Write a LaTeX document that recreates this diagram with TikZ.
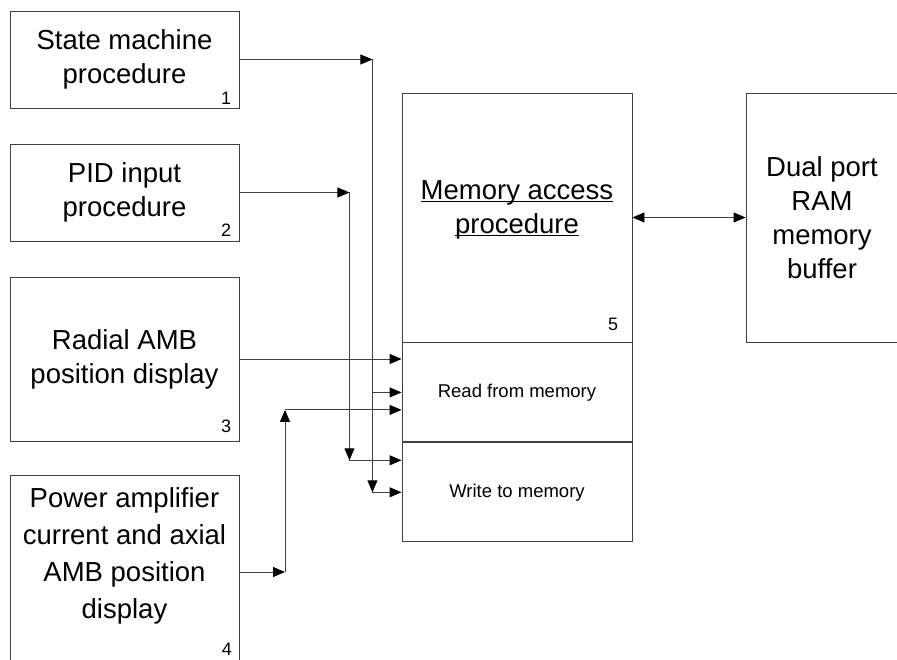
\documentclass[tikz,border=0pt]{standalone}
\usepackage{fontspec}
\setmainfont{Liberation Sans}
\usetikzlibrary{arrows.meta, positioning}
\tikzstyle{block}=[draw=black!75, line width=0.9pt, minimum width=229pt, align=center, inner sep=0pt, font=\fontsize{27.5}{34}\selectfont]
\tikzstyle{inarrow}=[-{Triangle[length=12pt,width=10pt,color=black]}, draw=black!75, line width=0.9pt]
\tikzstyle{num}=[anchor=south east, inner sep=0pt, font=\fontsize{18}{20}\selectfont]
\newcommand{\undl}[1]{\underline{\smash{#1}}}

\begin{document}
\begin{tikzpicture}[x=1pt,y=-1pt]
        \useasboundingbox (0,0) rectangle (897,660);

        \node[block, minimum height=97pt] (p1) at (124.5,59.5) {State machine\\procedure};
        \node[num, xshift=-8pt, yshift=4pt] (n1) at (p1.south east) {1};

        \node[block, minimum height=97pt] (p2) at (124.5,192.5) {PID input\\procedure};
        \node[num, xshift=-8pt, yshift=5pt] (n2) at (p2.south east) {2};

        \node[block, minimum height=164pt] (p3) at (124.5,359) {Radial AMB\\position display};
        \node[num, xshift=-8pt, yshift=9pt] (n3) at (p3.south east) {3};

        % box 4 runs past the bottom edge
        \node[block, minimum height=205pt] (p4) at (124.5,577.5) {};
        \node[align=center, font=\fontsize{27.5}{37}\selectfont] (t4) at (124.5,556) {Power amplifier\\current and axial\\AMB position\\display};
        \node[num, anchor=center] (n4) at (227,649) {4};

        \node[block, minimum width=230pt, minimum height=249pt] (p5) at (517,217.5) {\undl{Memory access}\\\undl{procedure}};
        \node[num, xshift=-14pt, yshift=12pt] (n5) at (p5.south east) {5};
        \node[block, minimum width=230pt, minimum height=99pt, below=0pt of p5, font=\fontsize{18.5}{22}\selectfont] (rd) {Read from memory};
        \node[block, minimum width=230pt, minimum height=99pt, below=0pt of rd, font=\fontsize{18.5}{22}\selectfont] (wr) {Write to memory};

        \node[block, minimum width=152pt, minimum height=249pt] (ram) at (822,217.5) {Dual port\\RAM\\memory\\buffer};

        \coordinate (j1) at ([xshift=133pt]p1.east);
        \coordinate (j2) at ([xshift=110pt]p2.east);
        \coordinate (j4) at (285,572);
        \coordinate (w2) at ([yshift=32pt]wr.west);
        \coordinate (r4) at ([yshift=-17.5pt]rd.west);

        \draw[inarrow] (p1.east) -- (j1);
        \draw[inarrow] (j1) -- (j1 |- wr.west);
        \draw[inarrow] (j1 |- wr.west) -- (wr.west);
        \draw[inarrow] (j1 |- rd.west) -- (rd.west);

        \draw[inarrow] (p2.east) -- (j2);
        \draw[inarrow] (j2) -- (j2 |- w2);
        \draw[inarrow] (j2 |- w2) -- (w2);

        \draw[inarrow] (p3.east) -- (p3.east -| rd.west);

        \draw[inarrow] (p4.east |- j4) -- (j4);
        \draw[inarrow] (j4) -- (j4 |- r4);
        \draw[inarrow] (j4 |- r4) -- (r4);

        \draw[inarrow, {Triangle[length=12pt,width=10pt,color=black]}-{Triangle[length=12pt,width=10pt,color=black]}] (p5.east) -- (ram.west);

\end{tikzpicture}
\end{document}
